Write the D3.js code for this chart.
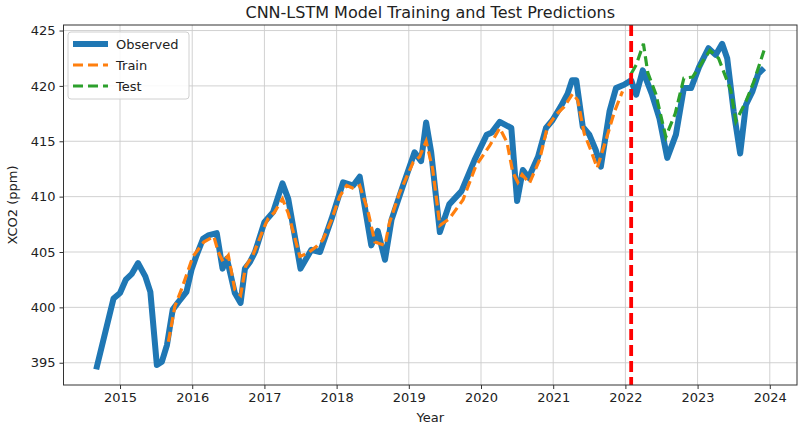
<!DOCTYPE html>
<html><head><meta charset="utf-8">
<script src="https://cdn.jsdelivr.net/npm/d3@7"></script>
<style>body{margin:0;background:#fff;} svg{display:block;font-family:"DejaVu Sans",sans-serif;}</style>
</head><body><svg id="chart" width="800" height="426"></svg>
<script>
// Observed series (decimal year, XCO2 ppm)
const obsYears = [2014.67,2014.91,2015.00,2015.08,2015.16,2015.25,2015.35,2015.42,2015.51,2015.58,2015.65,2015.73,2015.81,2015.92,2015.99,2016.06,2016.15,2016.22,2016.34,2016.42,2016.48,2016.59,2016.67,2016.73,2016.80,2016.87,2017.00,2017.12,2017.25,2017.33,2017.50,2017.65,2017.77,2017.93,2018.09,2018.23,2018.32,2018.48,2018.57,2018.67,2018.76,2018.92,2019.08,2019.17,2019.24,2019.31,2019.43,2019.56,2019.73,2019.91,2020.08,2020.15,2020.26,2020.42,2020.50,2020.58,2020.66,2020.79,2020.90,2020.99,2021.11,2021.20,2021.26,2021.32,2021.41,2021.50,2021.59,2021.66,2021.78,2021.87,2021.98,2022.08,2022.15,2022.24,2022.37,2022.47,2022.58,2022.70,2022.81,2022.91,2023.02,2023.15,2023.25,2023.34,2023.41,2023.50,2023.59,2023.67,2023.76,2023.84,2023.92];
const obsValues = [394.4,400.8,401.3,402.5,403.0,404.0,402.8,401.4,394.8,395.1,396.6,399.8,400.5,401.4,403.4,404.7,406.2,406.5,406.7,403.5,404.4,401.3,400.4,403.5,404.1,405.0,407.7,408.6,411.2,409.8,403.5,405.2,405.0,408.0,411.3,411.0,411.8,405.6,406.9,404.3,407.9,411.0,414.0,413.2,416.7,414.0,406.8,409.3,410.5,413.3,415.6,415.8,416.75,416.2,409.6,412.4,411.7,413.6,416.2,416.9,418.2,419.3,420.5,420.5,416.3,415.6,414.2,412.7,417.7,419.8,420.1,420.5,419.2,421.4,419.2,417.1,413.5,415.6,419.8,419.8,421.7,423.4,422.8,423.8,422.5,417.7,413.9,418.3,419.5,421.1,421.6];

// Train predictions
const trainYears = [2015.67,2015.76,2015.85,2016.01,2016.16,2016.30,2016.36,2016.43,2016.50,2016.59,2016.67,2016.74,2016.84,2017.00,2017.05,2017.14,2017.25,2017.33,2017.49,2017.60,2017.72,2017.81,2017.93,2018.04,2018.14,2018.25,2018.32,2018.43,2018.53,2018.67,2018.73,2018.87,2019.06,2019.15,2019.24,2019.33,2019.43,2019.56,2019.75,2019.93,2020.12,2020.26,2020.36,2020.44,2020.51,2020.57,2020.67,2020.81,2020.92,2021.04,2021.15,2021.27,2021.34,2021.43,2021.52,2021.61,2021.73,2021.85,2021.96];
const trainValues = [396.9,400.1,401.6,404.6,405.9,406.4,405.0,404.1,404.7,401.6,401.1,403.7,404.7,407.3,408.0,408.6,409.8,408.5,404.6,404.9,405.5,406.1,407.9,410.0,411.0,410.7,411.0,408.8,405.9,405.6,407.6,410.3,413.1,413.6,415.0,412.5,407.4,408.0,409.7,412.8,414.6,416.2,414.9,412.2,411.3,412.0,411.2,413.3,416.3,417.4,418.1,419.3,418.7,415.7,414.2,412.6,415.1,417.7,419.5];

// Test predictions
const testYears = [2022.08,2022.15,2022.25,2022.31,2022.42,2022.56,2022.69,2022.81,2022.93,2023.05,2023.17,2023.29,2023.46,2023.53,2023.67,2023.78,2023.92];
const testValues = [421.1,421.9,423.8,421.2,419.3,415.4,417.5,420.7,420.8,422.0,423.2,422.5,419.6,416.8,418.6,420.4,423.2];

const splitYear = 2022.08;
const xTicks = [2015,2016,2017,2018,2019,2020,2021,2022,2023,2024];
const yTicks = [395,400,405,410,415,420,425];
const seriesNames = ["Observed","Train","Test"];

const svg = d3.select("#chart");
const W = 800, H = 426;
const plot = {left:63.5, right:797, top:25, bottom:385};
const x = d3.scaleLinear().domain([2014.217, 2024.377]).range([plot.left, plot.right]);
const y = d3.scaleLinear().domain([392.99, 425.5]).range([plot.bottom, plot.top]);

// grid
const g = svg.append("g");
g.selectAll(".gx").data(xTicks).join("line")
  .attr("x1", d => x(d)).attr("x2", d => x(d))
  .attr("y1", plot.top).attr("y2", plot.bottom)
  .attr("stroke", "#cccccc").attr("stroke-width", 0.9);
g.selectAll(".gy").data(yTicks).join("line")
  .attr("x1", plot.left).attr("x2", plot.right)
  .attr("y1", d => y(d)).attr("y2", d => y(d))
  .attr("stroke", "#cccccc").attr("stroke-width", 0.9);

const line = d3.line().x(d => x(d[0])).y(d => y(d[1]));
const obs = d3.zip(obsYears, obsValues);
const train = d3.zip(trainYears, trainValues);
const test = d3.zip(testYears, testValues);

svg.append("path").datum(obs).attr("d", line)
  .attr("fill", "none").attr("stroke", "#1f77b4").attr("stroke-width", 6)
  .attr("stroke-linejoin", "round").attr("stroke-linecap", "butt");
svg.append("path").datum(train).attr("d", line)
  .attr("fill", "none").attr("stroke", "#ff7f0e").attr("stroke-width", 3.2)
  .attr("stroke-dasharray", "10,5");
svg.append("path").datum(test).attr("d", line)
  .attr("fill", "none").attr("stroke", "#2ca02c").attr("stroke-width", 3.2)
  .attr("stroke-dasharray", "10,5");

// split line
svg.append("line")
  .attr("x1", x(splitYear)).attr("x2", x(splitYear))
  .attr("y1", plot.top).attr("y2", plot.bottom)
  .attr("stroke", "#ff0000").attr("stroke-width", 3.8)
  .attr("stroke-dasharray", "11,5");

// axes
const xAxis = d3.axisBottom(x).tickValues(xTicks).tickFormat(d3.format("d")).tickSize(4).tickPadding(4);
const yAxis = d3.axisLeft(y).tickValues(yTicks).tickFormat(d3.format("d")).tickSize(4).tickPadding(4);
const gx = svg.append("g").attr("transform", `translate(0,${plot.bottom})`).call(xAxis);
const gy = svg.append("g").attr("transform", `translate(${plot.left},0)`).call(yAxis);
[gx, gy].forEach(a => {
  a.select(".domain").remove();
  a.selectAll("text").attr("font-size", 13).attr("fill", "#222").attr("font-family", "DejaVu Sans");
  a.selectAll("line").attr("stroke", "#333");
});
// frame
svg.append("rect").attr("x", plot.left).attr("y", plot.top)
  .attr("width", plot.right - plot.left).attr("height", plot.bottom - plot.top)
  .attr("fill", "none").attr("stroke", "#333").attr("stroke-width", 1);

// labels
svg.append("text").attr("x", (plot.left + plot.right) / 2).attr("y", 18)
  .attr("text-anchor", "middle").attr("font-size", 16).attr("fill", "#222")
  .text("CNN-LSTM Model Training and Test Predictions");
svg.append("text").attr("x", (plot.left + plot.right) / 2).attr("y", 422)
  .attr("text-anchor", "middle").attr("font-size", 13).attr("fill", "#222").text("Year");
svg.append("text").attr("transform", `translate(17,${(plot.top + plot.bottom) / 2}) rotate(-90)`)
  .attr("text-anchor", "middle").attr("font-size", 13).attr("fill", "#222").text("XCO2 (ppm)");

// legend
const lg = svg.append("g").attr("transform", "translate(68,32)");
lg.append("rect").attr("width", 121).attr("height", 67).attr("rx", 3)
  .attr("fill", "rgba(255,255,255,0.85)").attr("stroke", "#d0d0d0");
const styles = [
  {c: "#1f77b4", w: 6, dash: null},
  {c: "#ff7f0e", w: 3.2, dash: "10,5"},
  {c: "#2ca02c", w: 3.2, dash: "10,5"}
];
seriesNames.forEach((n, i) => {
  const yy = 12 + i * 21;
  const l = lg.append("line").attr("x1", 5).attr("x2", 40).attr("y1", yy).attr("y2", yy)
    .attr("stroke", styles[i].c).attr("stroke-width", styles[i].w);
  if (styles[i].dash) l.attr("stroke-dasharray", styles[i].dash);
  lg.append("text").attr("x", 48).attr("y", yy + 5).attr("font-size", 13).attr("fill", "#222").text(n);
});
</script></body></html>
